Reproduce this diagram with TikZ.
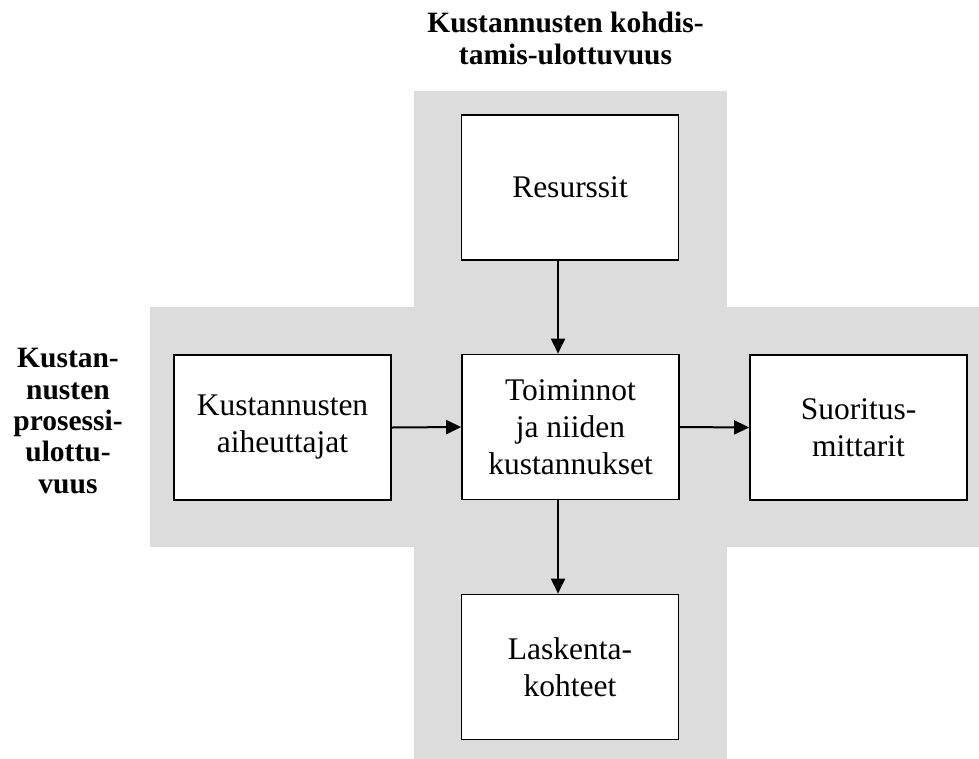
\documentclass[tikz,border=0pt]{standalone}
\usepackage{fontspec}
\setmainfont{Liberation Serif}
\usetikzlibrary{arrows.meta}
\definecolor{crossgray}{HTML}{DCDCDC}
\begin{document}
\begin{tikzpicture}[x=1pt,y=-1pt,
  box/.style={draw=black,line width=1.7pt,fill=white,minimum width=217pt,minimum height=145pt,
    inner sep=0pt,align=center,font=\fontsize{31.5}{37}\selectfont},
  dimlabel/.style={align=center,inner sep=0pt,anchor=base,font=\fontsize{29.5}{31.3}\selectfont\bfseries},
  flow/.style={line width=2pt,-{Triangle[length=15pt,width=14pt]}}]
\useasboundingbox (0,0) rectangle (979,758);
\clip (0,0) rectangle (979,758);
% gray cross background
\fill[crossgray] (414,91) rectangle (727,770);
\fill[crossgray] (150,307) rectangle (990,547);
% boxes
\node[box] (res) at (570,187.5) {Resurssit};
\node[box] (act) at (570.5,427) {Toiminnot\\ja niiden\\kustannukset};
\node[box] (drv) at (282.5,427.5) {Kustannusten\\aiheuttajat};
\node[box] (mea) at (858.5,427.5) {Suoritus-\\mittarit};
\node[box] (obj) at (570,667) {Laskenta-\\kohteet};
% dimension labels
\node[dimlabel] (top) at (565.5,64) {Kustannusten kohdis-\\tamis-ulottuvuus};
\node[dimlabel] (left) at (68,493) {Kustan-\\nusten\\prosessi-\\ulottu-\\vuus};
% connectors
\draw[flow] ([xshift=-12pt]res.south) -- ([xshift=-12.5pt]act.north);
\draw[flow] ([xshift=-12.5pt]act.south) -- ([xshift=-12pt]obj.north);
\draw[flow] (drv.east) -- (act.west);
\draw[flow] (act.east) -- (mea.west);
\end{tikzpicture}
\end{document}
